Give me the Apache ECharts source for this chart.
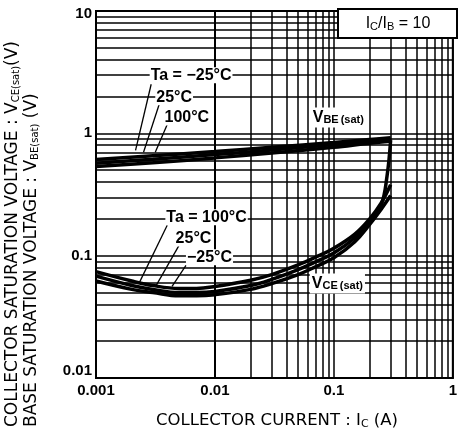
<!DOCTYPE html>
<html>
<head>
<meta charset="utf-8">
<script src="https://cdn.jsdelivr.net/npm/echarts@6/dist/echarts.min.js"></script>
<style>
  html, body { margin: 0; padding: 0; background: #fff; }
</style>
</head>
<body>
<div id="chartID" style="width: 460px;height:435px"></div>
<script>
// collector current (A) vs saturation voltage (V), Ic/Ib = 10
const vbeM25 = [[0.001, 0.61], [0.003, 0.655], [0.01, 0.71], [0.03, 0.77], [0.1, 0.84], [0.2, 0.89], [0.3, 0.92]]
const vbe25 = [[0.001, 0.57], [0.003, 0.615], [0.01, 0.67], [0.03, 0.73], [0.1, 0.81], [0.2, 0.86], [0.3, 0.89]]
const vbe100 = [[0.001, 0.535], [0.003, 0.575], [0.01, 0.63], [0.03, 0.69], [0.1, 0.77], [0.2, 0.83], [0.3, 0.86]]

const vce100 = [[0.001, 0.074], [0.002, 0.062], [0.003, 0.057], [0.005, 0.054], [0.007, 0.054], [0.01, 0.056], [0.02, 0.063], [0.03, 0.07], [0.05, 0.084], [0.07, 0.097], [0.1, 0.115], [0.15, 0.15], [0.2, 0.2], [0.25, 0.27], [0.3, 0.38]]
const vce25 = [[0.001, 0.068], [0.002, 0.057], [0.003, 0.053], [0.005, 0.05], [0.007, 0.05], [0.01, 0.051], [0.02, 0.057], [0.03, 0.064], [0.05, 0.077], [0.07, 0.089], [0.1, 0.105], [0.15, 0.14], [0.2, 0.19], [0.25, 0.26], [0.28, 0.45], [0.3, 0.88]]
const vceM25 = [[0.001, 0.062], [0.002, 0.053], [0.003, 0.05], [0.005, 0.047], [0.007, 0.047], [0.01, 0.048], [0.02, 0.053], [0.03, 0.059], [0.05, 0.07], [0.07, 0.081], [0.1, 0.096], [0.15, 0.13], [0.2, 0.18], [0.25, 0.24], [0.3, 0.31]]

// minor grid values (log decades)
const gridX = [0.002, 0.003, 0.004, 0.005, 0.006, 0.007, 0.008, 0.009,
  0.02, 0.03, 0.04, 0.05, 0.06, 0.07, 0.08, 0.09,
  0.2, 0.3, 0.4, 0.5, 0.6, 0.7, 0.8, 0.9]
const gridY = [0.02, 0.03, 0.04, 0.05, 0.06, 0.07, 0.08, 0.09,
  0.2, 0.3, 0.4, 0.5, 0.6, 0.7, 0.8, 0.9,
  2, 3, 4, 5, 6, 7, 8, 9]

// annotation anchors in data coords
const tempLabels = [
  { text: 'Ta = \u221225\u00b0C', at: [0.0063, 2.98] },
  { text: '25\u00b0C', at: [0.00454, 1.97] },
  { text: '100\u00b0C', at: [0.0058, 1.35] },
  { text: 'Ta = 100\u00b0C', at: [0.0085, 0.206] },
  { text: '25\u00b0C', at: [0.0066, 0.138] },
  { text: '\u221225\u00b0C', at: [0.009, 0.0969] },
]
const leaders = [
  [[0.00291, 2.52], [0.00215, 0.726]],
  [[0.0034, 1.73], [0.00251, 0.70]],
  [[0.00397, 1.18], [0.00315, 0.70]],
  [[0.00397, 0.177], [0.00232, 0.0605]],
  [[0.00499, 0.1214], [0.00321, 0.0572]],
  [[0.00571, 0.0833], [0.00436, 0.0561]],
]
const curveLabels = [
  { main: 'V', sub: 'BE', tail: '(sat)', at: [0.109, 1.35] },
  { main: 'V', sub: 'CE', tail: '(sat)', at: [0.107, 0.0593] },
]

const FONT = 'Liberation Sans'
const TITLE_FONT = 'DejaVu Sans'
const elem = document.getElementById('chartID')
const chartObj = echarts.init(elem, null, { renderer: 'canvas' })

const gridLine = { color: '#000', width: 1.5 }

function curve(data) {
  return {
    type: 'line',
    data,
    smooth: 0.4,
    showSymbol: false,
    silent: true,
    z: 4,
    lineStyle: { color: '#000', width: 3.5 },
  }
}

const option = {
  animation: false,
  backgroundColor: '#fff',
  grid: {
    left: 96,
    right: 3,
    top: 11,
    bottom: 57,
    show: true,
    borderColor: '#000',
    borderWidth: 2,
  },
  xAxis: {
    type: 'log',
    logBase: 10,
    min: 0.001,
    max: 1,
    axisLine: { lineStyle: { color: '#000', width: 2 } },
    axisTick: { show: false },
    splitLine: { show: true, lineStyle: gridLine },
    axisLabel: {
      color: '#000',
      fontFamily: FONT,
      fontWeight: 'bold',
      fontSize: 15,
      margin: 5,
      showMinLabel: true,
      showMaxLabel: true,
    },
  },
  yAxis: {
    type: 'log',
    logBase: 10,
    min: 0.01,
    max: 10,
    axisLine: { lineStyle: { color: '#000', width: 2 } },
    axisTick: { show: false },
    splitLine: { show: true, lineStyle: gridLine },
    axisLabel: {
      color: '#000',
      fontFamily: FONT,
      fontWeight: 'bold',
      fontSize: 15,
      margin: 4,
      showMinLabel: true,
      showMaxLabel: true,
      formatter(v) {
        const e = Math.round(Math.log10(v))
        const s = String(Math.pow(10, e) < 1 ? Math.pow(10, e).toFixed(-e) : Math.pow(10, e))
        if (e === -2)
          return `{lo|${s}}`
        if (e === 1)
          return `{hi|${s}}`
        return s
      },
      rich: {
        lo: { fontFamily: FONT, fontWeight: 'bold', fontSize: 15, color: '#000', padding: [0, 0, 14, 0] },
        hi: { fontFamily: FONT, fontWeight: 'bold', fontSize: 15, color: '#000', padding: [6, 0, 0, 0] },
      },
    },
  },
  series: [
    {
      type: 'line',
      data: [],
      silent: true,
      markLine: {
        silent: true,
        symbol: 'none',
        label: { show: false },
        lineStyle: { color: '#000', width: 1.5, type: 'solid' },
        data: [
          ...gridX.map(v => ({ xAxis: v })),
          ...gridY.map(v => ({ yAxis: v })),
        ],
      },
    },
    curve(vbeM25),
    curve(vbe25),
    curve(vbe100),
    curve(vce100),
    curve(vce25),
    curve(vceM25),
    ...leaders.map(seg => ({
      type: 'line',
      data: seg,
      showSymbol: false,
      silent: true,
      z: 5,
      lineStyle: { color: '#000', width: 1.3 },
    })),
  ],
}

chartObj.setOption(option)

const px = p => chartObj.convertToPixel({ gridIndex: 0 }, p)
const graphics = []

tempLabels.forEach((l) => {
  const [x, y] = px(l.at)
  graphics.push({
    type: 'text',
    x,
    y,
    z: 100,
    style: {
      text: l.text,
      fontFamily: FONT,
      fontWeight: 'bold',
      fontSize: 16,
      fill: '#000',
      align: 'center',
      verticalAlign: 'middle',
      backgroundColor: '#fff',
      padding: [0, 1],
    },
  })
})

curveLabels.forEach((l) => {
  const [x, y] = px(l.at)
  graphics.push({
    type: 'text',
    x,
    y,
    z: 100,
    style: {
      text: `{m|${l.main}}{s|${l.sub}}{t|${l.tail}}`,
      align: 'center',
      verticalAlign: 'middle',
      backgroundColor: '#fff',
      padding: [2, 2],
      rich: {
        m: { fontFamily: FONT, fontWeight: 'bold', fontSize: 16, fill: '#000', verticalAlign: 'bottom' },
        s: { fontFamily: FONT, fontWeight: 'bold', fontSize: 11, fill: '#000', verticalAlign: 'bottom' },
        t: { fontFamily: FONT, fontWeight: 'bold', fontSize: 11, fill: '#000', verticalAlign: 'bottom', padding: [0, 0, 0, 2] },
      },
    },
  })
})

// Ic/Ib box in upper right corner
graphics.push({
  type: 'rect',
  z: 100,
  shape: { x: 338, y: 9, width: 119, height: 29 },
  style: { fill: '#fff', stroke: '#000', lineWidth: 2 },
})
graphics.push({
  type: 'text',
  z: 101,
  x: 398,
  y: 24,
  style: {
    text: '{m|I}{s|C}{m|/I}{s|B}{m| = 10}',
    align: 'center',
    verticalAlign: 'middle',
    rich: {
      m: { fontFamily: FONT, fontSize: 16, fill: '#000', verticalAlign: 'bottom' },
      s: { fontFamily: FONT, fontSize: 11, fill: '#000', verticalAlign: 'bottom' },
    },
  },
})

// axis titles
graphics.push({
  type: 'text',
  x: 277,
  y: 421,
  style: {
    text: '{m|COLLECTOR CURRENT : I}{s|C}{m| (A)}',
    align: 'center',
    verticalAlign: 'middle',
    rich: {
      m: { fontFamily: TITLE_FONT, fontSize: 16.5, fill: '#000', verticalAlign: 'bottom' },
      s: { fontFamily: TITLE_FONT, fontSize: 11, fill: '#000', verticalAlign: 'bottom' },
    },
  },
})
graphics.push({
  type: 'text',
  x: 13,
  y: 427,
  rotation: Math.PI / 2,
  style: {
    text: '{m|COLLECTOR SATURATION VOLTAGE : V}{s|CE(sat)}{m|(V)}',
    align: 'left',
    verticalAlign: 'middle',
    rich: {
      m: { fontFamily: TITLE_FONT, fontSize: 17, fill: '#000', verticalAlign: 'bottom' },
      s: { fontFamily: TITLE_FONT, fontSize: 10, fill: '#000', verticalAlign: 'bottom' },
    },
  },
})
graphics.push({
  type: 'text',
  x: 32,
  y: 427,
  rotation: Math.PI / 2,
  style: {
    text: '{m|BASE SATURATION VOLTAGE : V}{s|BE(sat)}{m| (V)}',
    align: 'left',
    verticalAlign: 'middle',
    rich: {
      m: { fontFamily: TITLE_FONT, fontSize: 17, fill: '#000', verticalAlign: 'bottom' },
      s: { fontFamily: TITLE_FONT, fontSize: 10, fill: '#000', verticalAlign: 'bottom' },
    },
  },
})

chartObj.setOption({ graphic: graphics })
</script>
</body>
</html>
